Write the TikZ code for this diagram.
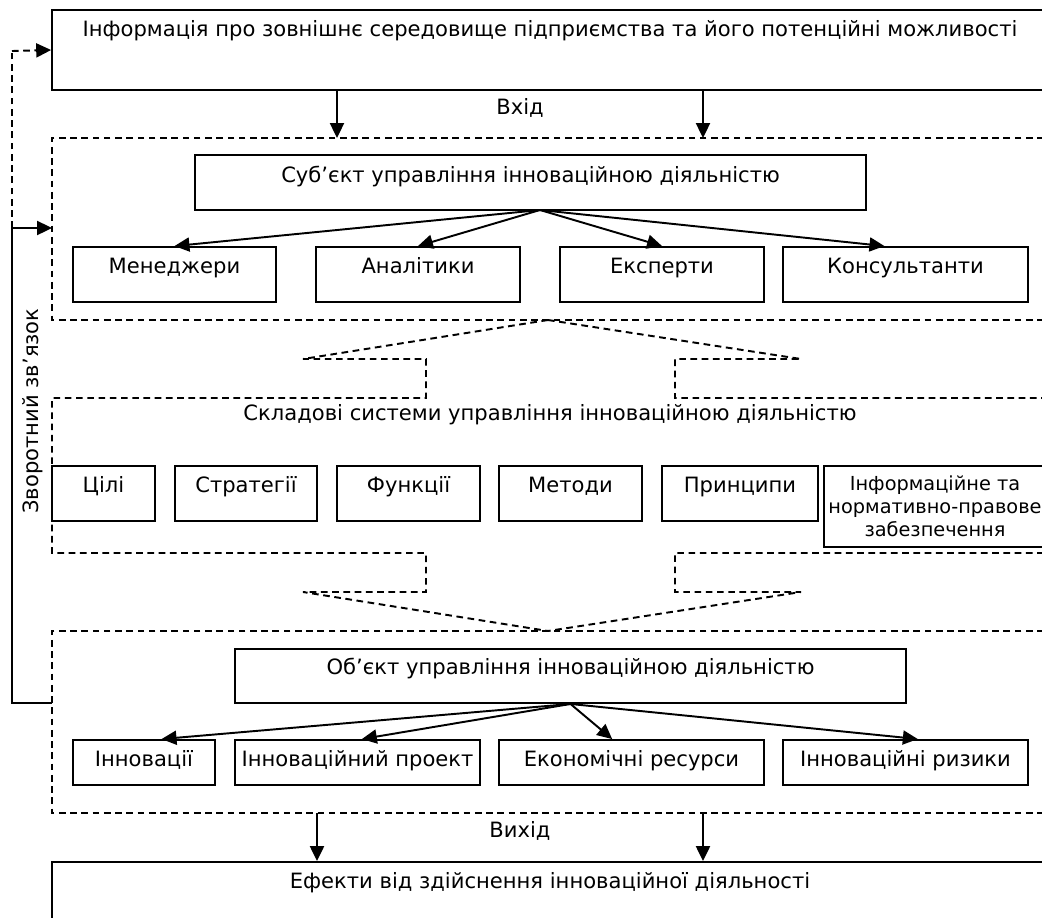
\documentclass[tikz,border=0pt]{standalone}
\usepackage{fontspec}
\setmainfont{DejaVu Sans}
\usetikzlibrary{arrows.meta}

\begin{document}
\begin{tikzpicture}[x=0.02cm,y=-0.02cm,font=\fontsize{12}{14.5}\selectfont,
    box/.style={draw,line width=1.1pt,inner sep=0pt,text height=0.52cm,text depth=0.58cm},
    zone/.style={line width=1.1pt,dash pattern=on 3.8pt off 2.6pt},
    arr/.style={line width=1.1pt,-{Triangle[length=8.5pt,width=8pt]}}]
  \useasboundingbox (0,0) rectangle (1042,917);
  \clip (0,0) rectangle (1042,917);

  % input
  \node[box,minimum width=19.92cm,text depth=1.08cm] at (550,50) (info) {Інформація про зовнішнє середовище підприємства та його потенційні можливості};
  \node[] at (520,108) (inlabel) {Вхід};
  \coordinate (in1) at (337,138);
  \coordinate (in2) at (703,138);
  \path[arr] (info.south -| in1) edge (in1);
  \path[arr] (info.south -| in2) edge (in2);

  % subject
  \draw[zone] (1100,138) -- (52,138) -- (52,320) -- (1100,320);
  \node[box,minimum width=13.42cm,text height=0.54cm,text depth=0.56cm] at (530.5,182.5) (subj) {Суб’єкт управління інноваційною діяльністю};
  \node[box,minimum width=4.06cm] at (174.5,274.5) (man) {Менеджери};
  \node[box,minimum width=4.08cm] at (418,274.5) (anal) {Аналітики};
  \node[box,minimum width=4.08cm] at (662,274.5) (exp) {Експерти};
  \node[box,minimum width=4.9cm] at (905.5,274.5) (cons) {Консультанти};
  \coordinate (s0) at (540,210);
  \path[arr] (s0) edge (man.north);
  \path[arr] (s0) edge (anal.north);
  \path[arr] (s0) edge (exp.north);
  \path[arr] (s0) edge ([xshift=-12pt]cons.north);

  % components
  \draw[zone] (548,320) -- (303,359) -- (426,359) -- (426,398) -- (52,398) -- (52,553) -- (426,553) -- (426,592) -- (303,592) -- (548,631);
  \draw[zone] (548,320) -- (801,359) -- (675,359) -- (675,398) -- (1100,398);
  \draw[zone] (1100,553) -- (675,553) -- (675,592) -- (801,592) -- (548,631);
  \node[] at (550,415) (parts) {Складові системи управління інноваційною діяльністю};
  \node[box,minimum width=2.06cm] at (103.5,493.5) (goal) {Цілі};
  \node[box,minimum width=2.84cm] at (246,493.5) (strat) {Стратегії};
  \node[box,minimum width=2.86cm] at (408.5,493.5) (func) {Функції};
  \node[box,minimum width=2.86cm] at (570.5,493.5) (meth) {Методи};
  \node[box,minimum width=3.12cm] at (740,493.5) (princ) {Принципи};
  \node[draw,line width=1.1pt,inner sep=0pt,minimum width=4.44cm,minimum height=1.62cm,align=center,font=\fontsize{11}{13}\selectfont] at (935,506.5) (norm) {Інформаційне та\\нормативно-правове\\забезпечення};

  % object
  \draw[zone] (1100,631) -- (52,631) -- (52,813) -- (1100,813);
  \node[box,minimum width=13.42cm,text height=0.5cm] at (570.5,676) (obj) {Об’єкт управління інноваційною діяльністю};
  \node[box,minimum width=2.84cm,text depth=0.38cm] at (144,762.5) (inn) {Інновації};
  \node[box,minimum width=4.9cm,text depth=0.38cm] at (357.5,762.5) (proj) {Інноваційний проект};
  \node[box,minimum width=5.3cm,text depth=0.38cm] at (631.5,762.5) (res) {Економічні ресурси};
  \node[box,minimum width=4.9cm,text depth=0.38cm] at (905.5,762.5) (risk) {Інноваційні ризики};
  \path[arr] (obj.south) edge ([xshift=10pt]inn.north);
  \path[arr] (obj.south) edge ([xshift=2.5pt]proj.north);
  \path[arr] (obj.south) edge ([xshift=-11pt]res.north);
  \path[arr] (obj.south) edge ([xshift=7pt]risk.north);

  % output
  \node[] at (520,831) (outlabel) {Вихід};
  \node[box,minimum width=19.92cm,text depth=1.2cm] at (550,905) (eff) {Ефекти від здійснення інноваційної діяльності};
  \coordinate (out1) at (317,813);
  \coordinate (out2) at (703,813);
  \path[arr] (out1) edge (out1 |- eff.north);
  \path[arr] (out2) edge (out2 |- eff.north);

  % feedback
  \coordinate (fb0) at (52,703);
  \coordinate (fb1) at (12,703);
  \coordinate (fb2) at (12,228);
  \coordinate (fb3) at (52,228);
  \coordinate (fb4) at (12,51);
  \draw[line width=1.1pt] (fb0) -- (fb1) -- (fb2);
  \path[arr] (fb2) edge (fb3);
  \draw[zone] (fb2) -- (fb4);
  \path[arr,zone] (fb4) edge (info.west);
  \node[rotate=90] at (33,411) (fblabel) {Зворотний зв’язок};
\end{tikzpicture}
\end{document}
